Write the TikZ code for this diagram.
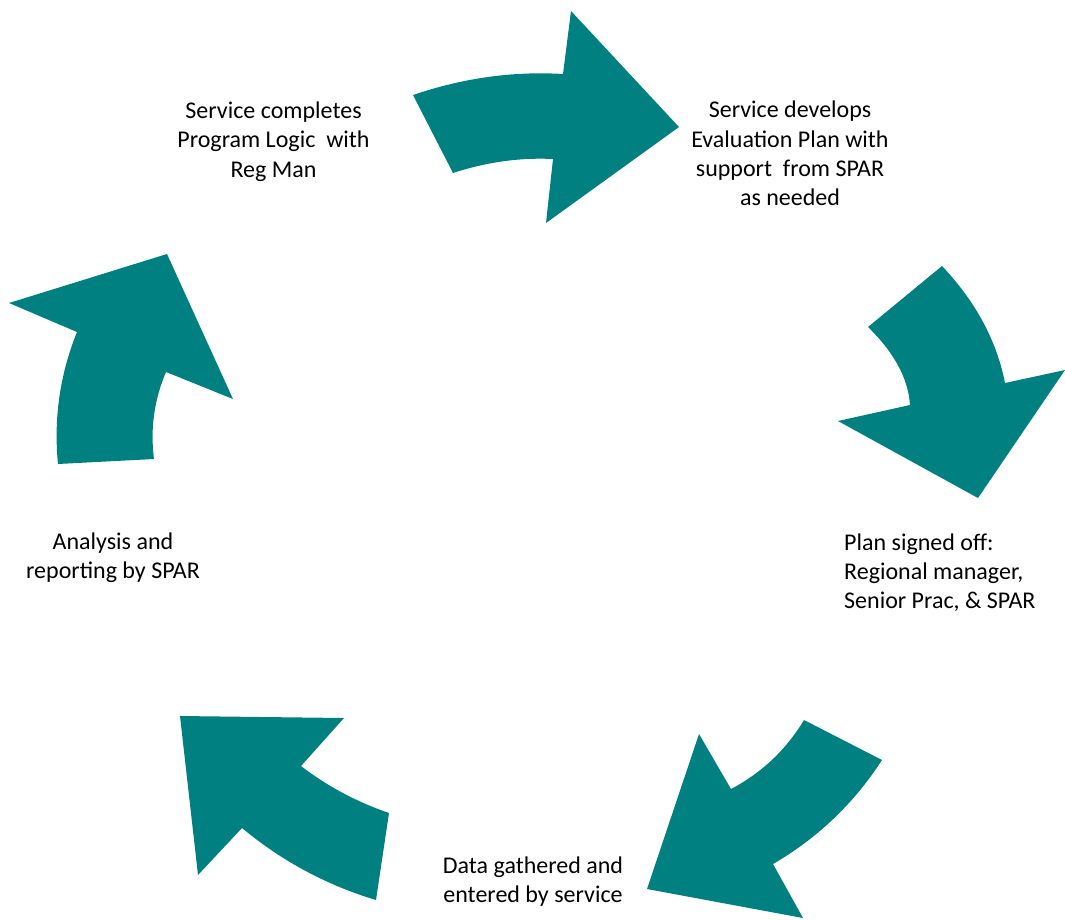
\documentclass[tikz,border=0pt]{standalone}
\usepackage{fontspec}
\setmainfont{Carlito}
\definecolor{teal}{RGB}{0,128,128}
\tikzset{
  arrowshape/.style={fill=teal, draw=none},
  lbl/.style={inner sep=0pt, font=\fontsize{24}{29.3}\selectfont, text=black},
}
\begin{document}
\begin{tikzpicture}[x=1pt,y=-1pt]
\useasboundingbox[fill=white] (0,0) rectangle (1065,919);
% top arrow
\fill[arrowshape] (413,95) .. controls (463,78) and (513,71) .. (563,74)
  -- (571,11) -- (679,127) -- (546,223) -- (553,159)
  .. controls (519.7,157.4) and (486.3,162.1) .. (453,173) -- cycle;
% right arrow
\fill[arrowshape] (942,266) .. controls (975.7,301.7) and (996.7,340.7) .. (1005,383)
  -- (1065,370) -- (978,498) -- (838,421) -- (910,405)
  .. controls (908.3,378.7) and (894.3,352.7) .. (868,327) -- cycle;
% bottom-right arrow
\fill[arrowshape] (882,760) .. controls (854,803.3) and (817.7,838) .. (773,864)
  -- (803,918) -- (647,889) -- (699,734) -- (731,789)
  .. controls (761.7,772.8) and (786.1,749.8) .. (804,720) -- cycle;
% bottom-left arrow
\fill[arrowshape] (389,813) .. controls (357.1,802.1) and (327.7,786.5) .. (301,766)
  -- (344,718) -- (180,716) -- (198,875) -- (242,828)
  .. controls (281.8,861.1) and (326.5,885.1) .. (376,900) -- cycle;
% left arrow
\fill[arrowshape] (58,464) .. controls (53.5,418.5) and (59.9,374.5) .. (77,332)
  -- (9,303) -- (167,254) -- (233,399) -- (166,372)
  .. controls (154.1,399.9) and (150.1,428.9) .. (154,459) -- cycle;
% labels
\node[lbl, align=center] (t1) at (273.5,141.5) {Service completes\\Program Logic~ with\\Reg Man};
\node[lbl, align=center] (t2) at (790,153.5) {Service develops\\Evaluation Plan with\\support~ from SPAR\\as needed};
\node[lbl, align=left, anchor=west] (t3) at (844,572.5) {Plan signed off:\\Regional manager,\\Senior Prac, \& SPAR};
\node[lbl, align=center] (t4) at (533,881.5) {Data gathered and\\entered by service};
\node[lbl, align=center] (t5) at (113,558) {Analysis and\\reporting by SPAR};
\end{tikzpicture}
\end{document}
